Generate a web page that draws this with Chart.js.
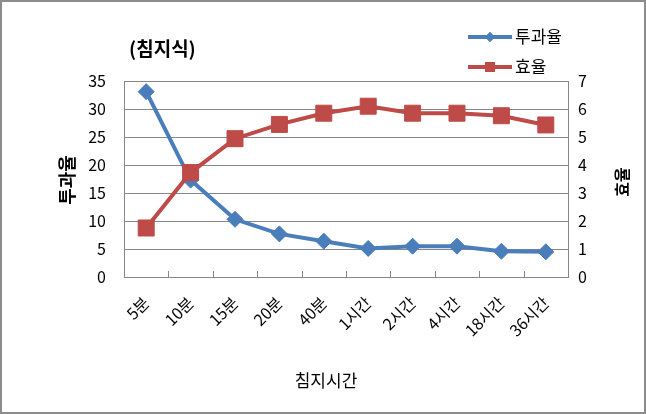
<!DOCTYPE html>
<html><head><meta charset="utf-8">
<script src="https://cdn.jsdelivr.net/npm/chart.js@4/dist/chart.umd.min.js"></script>
<style>html,body{margin:0;padding:0;background:#fff;}#wrap{width:646px;height:414px;}</style>
</head><body><div id="wrap"><canvas id="c" width="646" height="414"></canvas></div>
<script>
const categories = ['5분','10분','15분','20분','40분','1시간','2시간','4시간','18시간','36시간'];
const transmittance = [33.1,17.3,10.3,7.7,6.4,5.1,5.5,5.5,4.6,4.5];
const efficiency = [1.75,3.73,4.94,5.45,5.85,6.1,5.85,5.85,5.76,5.43];
const seriesNames = ['투과율','효율'];
const leftTickStep = 5, leftMax = 35;
const rightTickStep = 1, rightMax = 7;
const chartTitle = '(침지식)';
const xTitle = '침지시간';
const leftTitle = '투과율';
const rightTitle = '효율';

const FF = "'Noto Sans CJK KR','Noto Sans',sans-serif";
const BLUE = '#4A7EBB', RED = '#BE4B48', GRID = '#868686';

const decor = {
  id: 'decor',
  beforeDraw(chart) {
    const ctx = chart.ctx; ctx.save(); ctx.fillStyle = '#fff'; ctx.fillRect(0, 0, chart.width, chart.height); ctx.restore();
  },
  afterDraw(chart) {
    const ctx = chart.ctx, a = chart.chartArea, xs = chart.scales.x;
    ctx.save();
    ctx.strokeStyle = GRID; ctx.lineWidth = 1;
    for (let i = 1; i < categories.length; i++) {
      const px = Math.round((xs.getPixelForTick(i - 1) + xs.getPixelForTick(i)) / 2) + 0.5;
      ctx.beginPath(); ctx.moveTo(px, a.bottom); ctx.lineTo(px, a.bottom - 6); ctx.stroke();
    }
    ctx.fillStyle = '#000'; ctx.textBaseline = 'middle';
    ctx.font = 'bold 19px ' + FF; ctx.textAlign = 'left';
    ctx.fillText(chartTitle, 129, 49);
    ctx.font = '17px ' + FF; ctx.textAlign = 'center';
    ctx.fillText(xTitle, 326, 381);
    ctx.save(); ctx.translate(67, 180); ctx.rotate(-Math.PI / 2);
    ctx.font = 'bold 18px ' + FF; ctx.fillText(leftTitle, 0, 0); ctx.restore();
    ctx.save(); ctx.translate(622, 182); ctx.rotate(-Math.PI / 2);
    ctx.font = 'bold 16px ' + FF; ctx.fillText(rightTitle, 0, 0); ctx.restore();
    // legend
    const rows = [37, 67];
    chart.data.datasets.forEach((ds, i) => {
      const y = rows[i];
      ctx.strokeStyle = ds.borderColor; ctx.lineWidth = 4; ctx.lineCap = 'butt';
      ctx.beginPath(); ctx.moveTo(468, y); ctx.lineTo(512, y); ctx.stroke();
      ctx.fillStyle = ds.backgroundColor;
      Chart.helpers.drawPoint(ctx, {pointStyle: ds.pointStyle, radius: i === 0 ? 5 : 7, rotation: 0, borderWidth: 0}, 490, y);
      ctx.fill();
      ctx.fillStyle = '#000'; ctx.font = '17px ' + FF; ctx.textAlign = 'left';
      ctx.fillText(ds.label, 515, y);
    });
    ctx.strokeStyle = '#8c8c8c'; ctx.lineWidth = 2; ctx.strokeRect(1, 1, chart.width - 2, chart.height - 2);
    ctx.restore();
  }
};

new Chart(document.getElementById('c'), {
  type: 'line',
  data: {
    labels: categories,
    datasets: [
      {label: seriesNames[0], data: transmittance, yAxisID: 'y', borderColor: BLUE, backgroundColor: BLUE,
       borderWidth: 4, pointStyle: 'rectRot', pointRadius: 8, pointBorderWidth: 1, pointBorderColor: BLUE, order: 1, tension: 0},
      {label: seriesNames[1], data: efficiency, yAxisID: 'y1', borderColor: RED, backgroundColor: RED,
       borderWidth: 4, pointStyle: 'rect', pointRadius: 11.3, pointBorderWidth: 1, pointBorderColor: RED, order: 0, tension: 0}
    ]
  },
  options: {
    responsive: false, animation: false, devicePixelRatio: 1,
    layout: {padding: {top: 81, left: 0, right: 0, bottom: 0}},
    plugins: {legend: {display: false}, title: {display: false}, tooltip: {enabled: false}},
    scales: {
      x: {
        type: 'category', offset: true,
        grid: {display: true, drawOnChartArea: false, drawTicks: false},
        border: {display: true, color: GRID, width: 1},
        ticks: {autoSkip: false, minRotation: 45, maxRotation: 45, padding: 16, color: '#000', font: {family: FF, size: 16}},
        afterFit(s) { s.height = 137; }
      },
      y: {
        position: 'left', min: 0, max: leftMax,
        ticks: {stepSize: leftTickStep, padding: 18, color: '#000', font: {family: FF, size: 16}},
        grid: {color: GRID, lineWidth: 1, drawTicks: false},
        border: {display: true, color: GRID, width: 1},
        afterFit(s) { s.width = 124; }
      },
      y1: {
        position: 'right', min: 0, max: rightMax,
        ticks: {stepSize: rightTickStep, padding: 10, color: '#000', font: {family: FF, size: 16}},
        grid: {drawOnChartArea: false, drawTicks: false},
        border: {display: true, color: GRID, width: 1},
        afterFit(s) { s.width = 78; }
      }
    }
  },
  plugins: [decor]
});
</script></body></html>
